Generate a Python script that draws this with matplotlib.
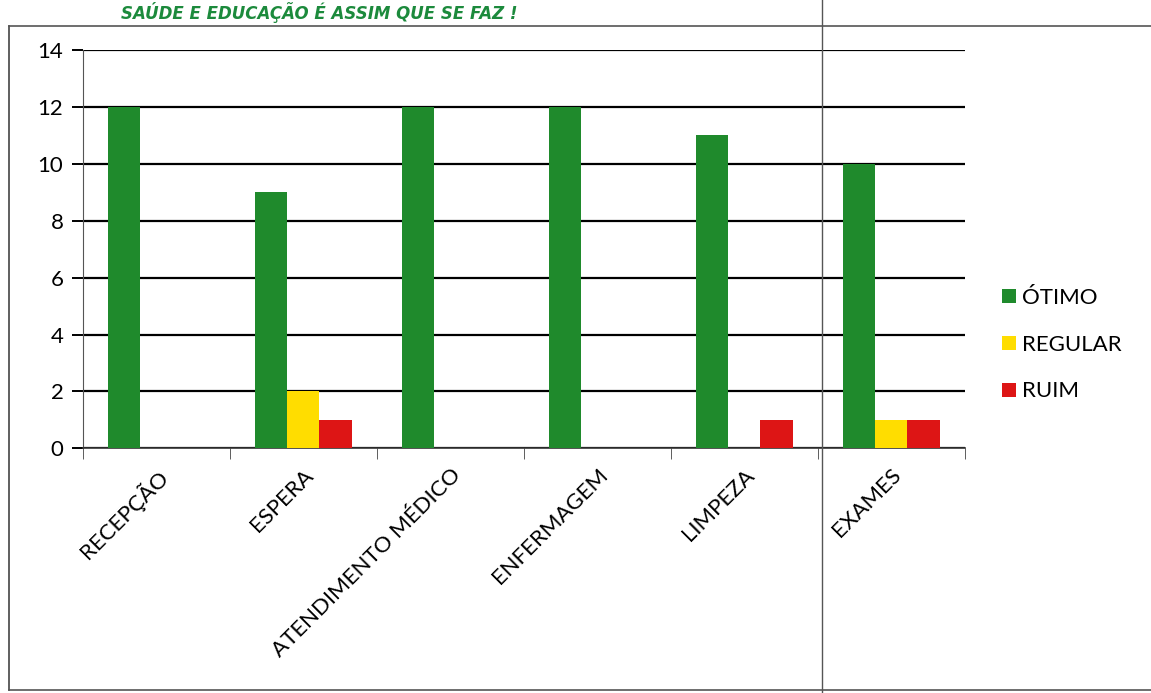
import numpy as np
import matplotlib.pyplot as plt
from matplotlib.lines import Line2D

# Data:
categories = ["RECEPÇÃO", "ESPERA", "ATENDIMENTO MÉDICO", "ENFERMAGEM", "LIMPEZA", "EXAMES"]
otimo = [12, 9, 12, 12, 11, 10]
regular = [0, 2, 0, 0, 0, 1]
ruim = [0, 1, 0, 0, 1, 1]
series_names = ["ÓTIMO", "REGULAR", "RUIM"]

# Colors:
green = "#1f8a2c"
yellow = "#ffdd00"
red = "#dd1515"

plt.rcParams['font.family'] = ['Lato', 'DejaVu Sans']

fig = plt.figure(figsize=(11.51, 6.93), dpi=100)
fig.patch.set_facecolor("white")
ax = fig.add_axes([0.072, 0.353, 0.766, 0.575])

x = np.arange(len(categories))
w = 0.22
ax.bar(x - w, otimo, w, color=green, label=series_names[0], zorder=3)
ax.bar(x, regular, w, color=yellow, label=series_names[1], zorder=3)
ax.bar(x + w, ruim, w, color=red, label=series_names[2], zorder=3)

ax.set_xlim(-0.5, len(categories) - 0.5)
ax.set_ylim(0, 14)
ax.set_yticks(range(0, 15, 2))
ax.yaxis.grid(True, color="black", linewidth=1.6, zorder=1)
ax.tick_params(axis="y", length=8, labelsize=16, color="black", width=1.4, pad=6)

# category ticks between groups
ax.set_xticks(x)
ax.set_xticklabels(categories, rotation=45, ha="right", rotation_mode="anchor", fontsize=16)
ax.tick_params(axis="x", length=0, pad=12)
ax.set_xticks(np.arange(-0.5, len(categories), 1), minor=True)
ax.tick_params(axis="x", which="minor", length=8, color="#444444")

for s in ["top", "right"]:
    ax.spines[s].set_visible(False)
ax.spines["left"].set_color("#555555")
ax.spines["left"].set_linewidth(0.8)
ax.spines["bottom"].set_color("#333333")
ax.spines["bottom"].set_linewidth(1.2)

leg = ax.legend(loc="center left", bbox_to_anchor=(1.02, 0.26), frameon=False,
                fontsize=16, handlelength=0.6, handleheight=0.6, handletextpad=0.3,
                labelspacing=1.2)

# scanned page frame
fig.add_artist(Line2D([0.008, 0.008], [0.005, 0.962], color="#444444", lw=1.2))
fig.add_artist(Line2D([0.008, 1.0], [0.962, 0.962], color="#555555", lw=1.2))
fig.add_artist(Line2D([0.008, 1.0], [0.005, 0.005], color="#555555", lw=1.2))
fig.add_artist(Line2D([0.714, 0.714], [0.0, 1.0], color="#555555", lw=1.0))

fig.text(0.105, 0.997, "SAÚDE E EDUCAÇÃO É ASSIM QUE SE FAZ !", color="#1c8a3c",
         fontsize=12, fontweight="bold", fontstyle="italic",
         family=["Liberation Sans Narrow", "DejaVu Sans"],
         va="top", ha="left")

fig.savefig("out.png", dpi=100)
